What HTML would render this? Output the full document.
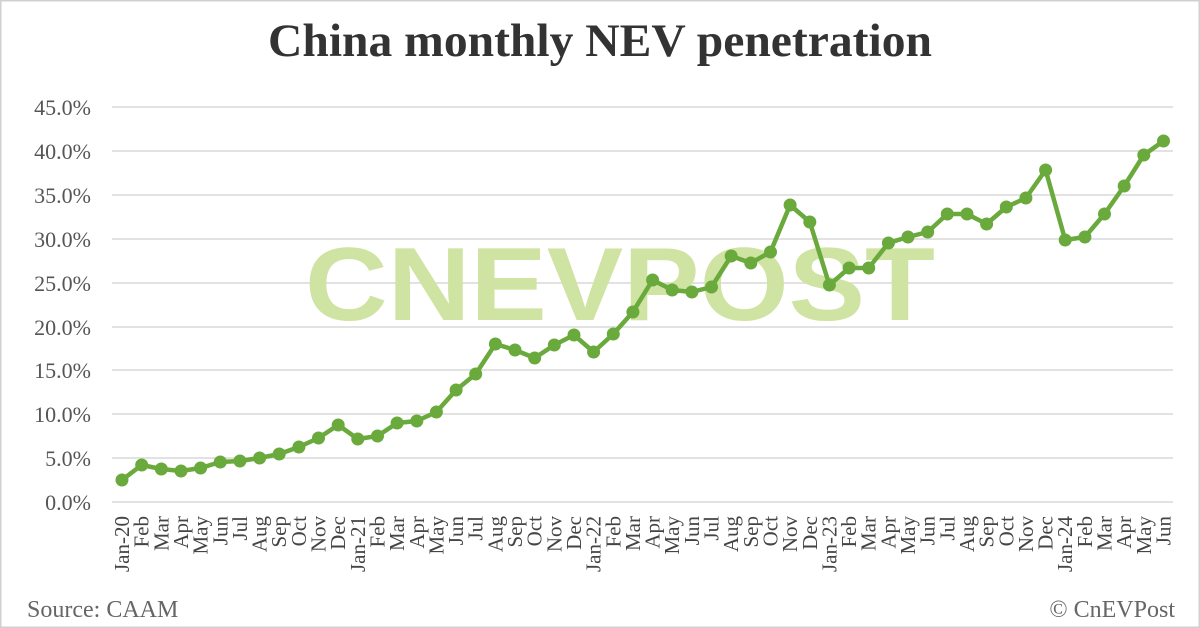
<!DOCTYPE html>
<html><head><meta charset="utf-8"><style>
html,body{margin:0;padding:0;background:#fff}
svg{display:block}
</style></head><body>
<svg width="1200" height="628" viewBox="0 0 1200 628" xmlns="http://www.w3.org/2000/svg" font-family="'Liberation Serif', serif">
<rect x="0.5" y="0.5" width="1199" height="627" fill="#fff" stroke="#d0d0d0" stroke-width="2"/>
<text x="600" y="56" text-anchor="middle" font-size="47" font-weight="bold" fill="#333" textLength="664" lengthAdjust="spacingAndGlyphs">China monthly NEV penetration</text>
<g stroke="#d9d9d9" stroke-width="1.5">
<line x1="112" x2="1173" y1="107" y2="107"/><line x1="112" x2="1173" y1="151" y2="151"/>
<line x1="112" x2="1173" y1="195" y2="195"/><line x1="112" x2="1173" y1="239" y2="239"/>
<line x1="112" x2="1173" y1="283" y2="283"/><line x1="112" x2="1173" y1="327" y2="327"/>
<line x1="112" x2="1173" y1="370" y2="370"/><line x1="112" x2="1173" y1="414" y2="414"/>
<line x1="112" x2="1173" y1="458" y2="458"/><line x1="112" x2="1173" y1="502" y2="502"/>
</g>
<g font-size="22" fill="#555" text-anchor="end">
<text x="91" y="115">45.0%</text><text x="91" y="159">40.0%</text><text x="91" y="203">35.0%</text>
<text x="91" y="247">30.0%</text><text x="91" y="291">25.0%</text><text x="91" y="335">20.0%</text>
<text x="91" y="378">15.0%</text><text x="91" y="422">10.0%</text><text x="91" y="466">5.0%</text>
<text x="91" y="510">0.0%</text>
</g>
<text x="305" y="320" font-family="'Liberation Sans', sans-serif" font-weight="bold" font-size="104" fill="#cfe3a3" textLength="630" lengthAdjust="spacingAndGlyphs">CNEVPOST</text>
<polyline fill="none" stroke="#6aaa3c" stroke-width="4.5" stroke-linejoin="round" points="122,480 141.7,465 161.3,469 181,471 200.6,468 220.3,462 239.9,461 259.6,458 279.2,454 298.9,447 318.5,438 338.2,425 357.8,439 377.5,436 397.1,423 416.8,421 436.4,412 456.1,390 475.7,374 495.4,344 515,350 534.7,358 554.3,345 574,335 593.6,352 613.3,334 632.9,312 652.6,280 672.2,290 691.9,292 711.5,287 731.2,256 750.8,263 770.5,252 790.1,205 809.8,222 829.4,285 849.1,268 868.7,268 888.4,243 908,237 927.7,232 947.3,214 967,214 986.6,224 1006.3,207 1025.9,198 1045.6,170 1065.2,240 1084.9,237 1104.5,214 1124.2,186 1143.8,155 1163.5,141"/>
<g fill="#6aaa3c">
<circle cx="122" cy="480" r="6.5"/><circle cx="141.7" cy="465" r="6.5"/><circle cx="161.3" cy="469" r="6.5"/><circle cx="181" cy="471" r="6.5"/><circle cx="200.6" cy="468" r="6.5"/><circle cx="220.3" cy="462" r="6.5"/><circle cx="239.9" cy="461" r="6.5"/><circle cx="259.6" cy="458" r="6.5"/><circle cx="279.2" cy="454" r="6.5"/><circle cx="298.9" cy="447" r="6.5"/><circle cx="318.5" cy="438" r="6.5"/><circle cx="338.2" cy="425" r="6.5"/><circle cx="357.8" cy="439" r="6.5"/><circle cx="377.5" cy="436" r="6.5"/><circle cx="397.1" cy="423" r="6.5"/><circle cx="416.8" cy="421" r="6.5"/><circle cx="436.4" cy="412" r="6.5"/><circle cx="456.1" cy="390" r="6.5"/><circle cx="475.7" cy="374" r="6.5"/><circle cx="495.4" cy="344" r="6.5"/><circle cx="515" cy="350" r="6.5"/><circle cx="534.7" cy="358" r="6.5"/><circle cx="554.3" cy="345" r="6.5"/><circle cx="574" cy="335" r="6.5"/><circle cx="593.6" cy="352" r="6.5"/><circle cx="613.3" cy="334" r="6.5"/><circle cx="632.9" cy="312" r="6.5"/><circle cx="652.6" cy="280" r="6.5"/><circle cx="672.2" cy="290" r="6.5"/><circle cx="691.9" cy="292" r="6.5"/><circle cx="711.5" cy="287" r="6.5"/><circle cx="731.2" cy="256" r="6.5"/><circle cx="750.8" cy="263" r="6.5"/><circle cx="770.5" cy="252" r="6.5"/><circle cx="790.1" cy="205" r="6.5"/><circle cx="809.8" cy="222" r="6.5"/><circle cx="829.4" cy="285" r="6.5"/><circle cx="849.1" cy="268" r="6.5"/><circle cx="868.7" cy="268" r="6.5"/><circle cx="888.4" cy="243" r="6.5"/><circle cx="908" cy="237" r="6.5"/><circle cx="927.7" cy="232" r="6.5"/><circle cx="947.3" cy="214" r="6.5"/><circle cx="967" cy="214" r="6.5"/><circle cx="986.6" cy="224" r="6.5"/><circle cx="1006.3" cy="207" r="6.5"/><circle cx="1025.9" cy="198" r="6.5"/><circle cx="1045.6" cy="170" r="6.5"/><circle cx="1065.2" cy="240" r="6.5"/><circle cx="1084.9" cy="237" r="6.5"/><circle cx="1104.5" cy="214" r="6.5"/><circle cx="1124.2" cy="186" r="6.5"/><circle cx="1143.8" cy="155" r="6.5"/><circle cx="1163.5" cy="141" r="6.5"/>
</g>
<g font-size="21" fill="#444" text-anchor="end">
<text transform="translate(129,516) rotate(-90)">Jan-20</text>
<text transform="translate(148.7,516) rotate(-90)">Feb</text>
<text transform="translate(168.3,516) rotate(-90)">Mar</text>
<text transform="translate(188,516) rotate(-90)">Apr</text>
<text transform="translate(207.6,516) rotate(-90)">May</text>
<text transform="translate(227.3,516) rotate(-90)">Jun</text>
<text transform="translate(246.9,516) rotate(-90)">Jul</text>
<text transform="translate(266.6,516) rotate(-90)">Aug</text>
<text transform="translate(286.2,516) rotate(-90)">Sep</text>
<text transform="translate(305.9,516) rotate(-90)">Oct</text>
<text transform="translate(325.5,516) rotate(-90)">Nov</text>
<text transform="translate(345.2,516) rotate(-90)">Dec</text>
<text transform="translate(364.8,516) rotate(-90)">Jan-21</text>
<text transform="translate(384.5,516) rotate(-90)">Feb</text>
<text transform="translate(404.1,516) rotate(-90)">Mar</text>
<text transform="translate(423.8,516) rotate(-90)">Apr</text>
<text transform="translate(443.4,516) rotate(-90)">May</text>
<text transform="translate(463.1,516) rotate(-90)">Jun</text>
<text transform="translate(482.7,516) rotate(-90)">Jul</text>
<text transform="translate(502.4,516) rotate(-90)">Aug</text>
<text transform="translate(522,516) rotate(-90)">Sep</text>
<text transform="translate(541.7,516) rotate(-90)">Oct</text>
<text transform="translate(561.3,516) rotate(-90)">Nov</text>
<text transform="translate(581,516) rotate(-90)">Dec</text>
<text transform="translate(600.6,516) rotate(-90)">Jan-22</text>
<text transform="translate(620.3,516) rotate(-90)">Feb</text>
<text transform="translate(639.9,516) rotate(-90)">Mar</text>
<text transform="translate(659.6,516) rotate(-90)">Apr</text>
<text transform="translate(679.2,516) rotate(-90)">May</text>
<text transform="translate(698.9,516) rotate(-90)">Jun</text>
<text transform="translate(718.5,516) rotate(-90)">Jul</text>
<text transform="translate(738.2,516) rotate(-90)">Aug</text>
<text transform="translate(757.8,516) rotate(-90)">Sep</text>
<text transform="translate(777.5,516) rotate(-90)">Oct</text>
<text transform="translate(797.1,516) rotate(-90)">Nov</text>
<text transform="translate(816.8,516) rotate(-90)">Dec</text>
<text transform="translate(836.4,516) rotate(-90)">Jan-23</text>
<text transform="translate(856.1,516) rotate(-90)">Feb</text>
<text transform="translate(875.7,516) rotate(-90)">Mar</text>
<text transform="translate(895.4,516) rotate(-90)">Apr</text>
<text transform="translate(915,516) rotate(-90)">May</text>
<text transform="translate(934.7,516) rotate(-90)">Jun</text>
<text transform="translate(954.3,516) rotate(-90)">Jul</text>
<text transform="translate(974,516) rotate(-90)">Aug</text>
<text transform="translate(993.6,516) rotate(-90)">Sep</text>
<text transform="translate(1013.3,516) rotate(-90)">Oct</text>
<text transform="translate(1032.9,516) rotate(-90)">Nov</text>
<text transform="translate(1052.6,516) rotate(-90)">Dec</text>
<text transform="translate(1072.2,516) rotate(-90)">Jan-24</text>
<text transform="translate(1091.9,516) rotate(-90)">Feb</text>
<text transform="translate(1111.5,516) rotate(-90)">Mar</text>
<text transform="translate(1131.2,516) rotate(-90)">Apr</text>
<text transform="translate(1150.8,516) rotate(-90)">May</text>
<text transform="translate(1170.5,516) rotate(-90)">Jun</text>
</g>
<text x="27" y="617" font-size="24" fill="#666">Source: CAAM</text>
<text x="1175" y="617" font-size="24" fill="#666" text-anchor="end">© CnEVPost</text>
</svg>
</body></html>
